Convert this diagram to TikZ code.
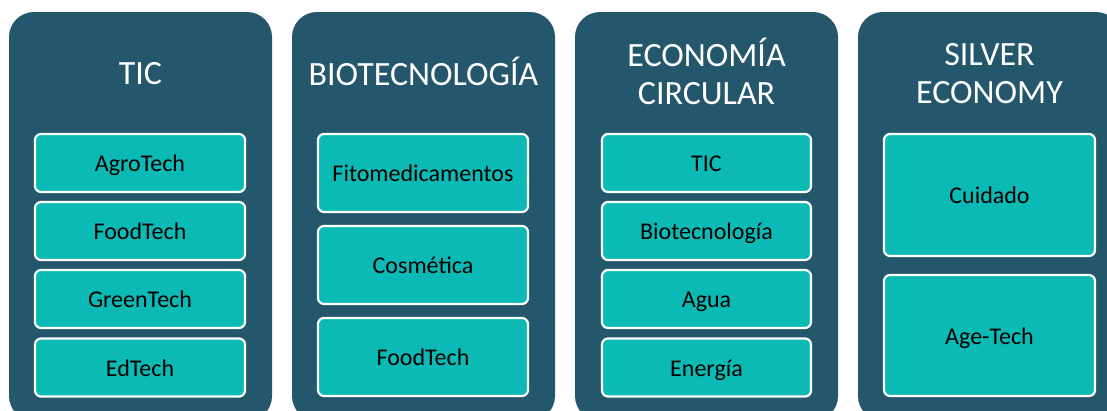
\documentclass[tikz,border=0pt]{standalone}
\usepackage{fontspec}
\setmainfont{Carlito}
\definecolor{colbg}{HTML}{24576B}
\definecolor{subbg}{HTML}{0BBAB5}
\tikzset{
  column/.style={fill=colbg, draw=none, rounded corners=25pt, minimum width=263pt, minimum height=409pt, inner sep=0pt, anchor=center},
  coltitle/.style={text=white, align=center, font=\fontsize{34}{38}\selectfont, inner sep=0pt},
  sub/.style={fill=subbg, draw=white, line width=2.2pt, rounded corners=6pt, inner sep=0pt,
    font=\fontsize{24}{26}\selectfont, text=black, text height=17pt, text depth=0pt},
}
\begin{document}
\begin{tikzpicture}[x=1pt,y=-1pt]
\useasboundingbox (0,0) rectangle (1107,410);
\clip (0,0) rectangle (1107,410);
% columns
\node[column] (c1) at (140.5,216.5) {};
\node[column] (c2) at (423.5,216.5) {};
\node[column] (c3) at (706.5,216.5) {};
\node[column] (c4) at (989.5,216.5) {};
% titles
\node[coltitle, anchor=base] (t1) at (140.5,84) {TIC};
\node[coltitle, anchor=base] (t2) at (423.5,85) {BIOTECNOLOGÍA};
\node[coltitle] (t3) at (706.5,71.5) {ECONOMÍA\\CIRCULAR};
\node[coltitle] (t4) at (989.5,74) {SILVER\\ECONOMY};
% column 1
\node[sub, minimum width=210pt, minimum height=58pt] (a1) at (140,163) {AgroTech};
\node[sub, minimum width=210pt, minimum height=58pt] (a2) at (140,231) {FoodTech};
\node[sub, minimum width=210pt, minimum height=58pt] (a3) at (140,299) {GreenTech};
\node[sub, minimum width=210pt, minimum height=58pt] (a4) at (140,367.5) {EdTech};
% column 2
\node[sub, minimum width=210pt, minimum height=78pt] (b1) at (423,173) {Fitomedicamentos};
\node[sub, minimum width=210pt, minimum height=78pt] (b2) at (423,265) {Cosmética};
\node[sub, minimum width=210pt, minimum height=78pt] (b3) at (423,357) {FoodTech};
% column 3
\node[sub, minimum width=209pt, minimum height=58pt] (e1) at (706.5,163) {TIC};
\node[sub, minimum width=209pt, minimum height=58pt] (e2) at (706.5,231) {Biotecnología};
\node[sub, minimum width=209pt, minimum height=58pt] (e3) at (706.5,299) {Agua};
\node[sub, minimum width=209pt, minimum height=58pt] (e4) at (706.5,367.5) {Energía};
% column 4
\node[sub, minimum width=211pt, minimum height=122pt] (s1) at (989.5,195) {Cuidado};
\node[sub, minimum width=211pt, minimum height=121pt] (s2) at (989.5,335.5) {Age-Tech};
\end{tikzpicture}
\end{document}
